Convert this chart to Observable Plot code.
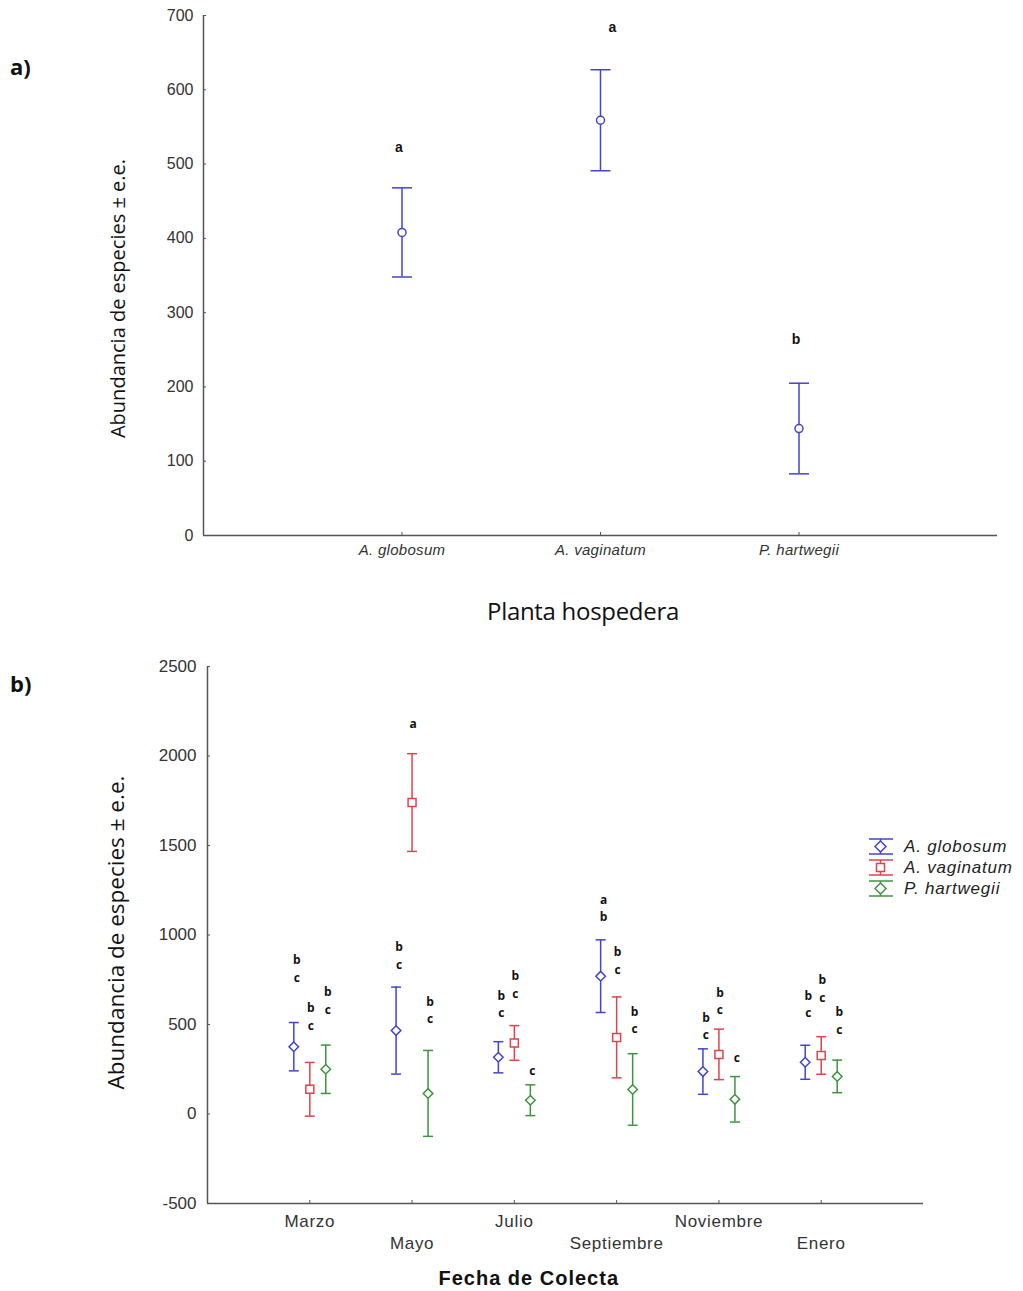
<!DOCTYPE html>
<html>
<head>
<meta charset="utf-8">
<script src="https://cdn.jsdelivr.net/npm/d3@7"></script>
<script src="https://cdn.jsdelivr.net/npm/@observablehq/plot@0.6"></script>
<style>
  html, body { margin: 0; padding: 0; background: #fff; }
  #page { position: relative; width: 1023px; height: 1291px; overflow: hidden; background: #fff; }
  #page > svg, #page > div { position: absolute; }
  .panel-tag { font-family: "Open Sans", sans-serif; font-weight: 700; font-size: 22px; color: #111; }
  .ytitle { font-family: "Open Sans", sans-serif; color: #111; white-space: nowrap; transform-origin: center center; }
  .legend-row { display: flex; align-items: center; height: 21px; }
  .legend-row span { font-family: "Liberation Sans", Arial, sans-serif; font-style: italic; font-size: 17px; letter-spacing: 0.8px; color: #222; margin-left: 8px; }
  svg.panel-b g[aria-label="x-axis tick label"] text { letter-spacing: 0.7px; }
  svg.panel-a g[aria-label="x-axis tick label"] text { letter-spacing: 0.3px; }
</style>
</head>
<body>
<div id="page"></div>
<script>
// ---------- Panel a data ----------
const hostPlants = ["A. globosum", "A. vaginatum", "P. hartwegii"];
const hostMeans = [408, 559, 144];
const hostSE = [60, 68, 61];
const hostLetters = ["a", "a", "b"];
const hostLetterY = [522, 684, 264];
const hostYTicks = [0, 100, 200, 300, 400, 500, 600, 700];

// ---------- Panel b data ----------
const months = ["Marzo", "Mayo", "Julio", "Septiembre", "Noviembre", "Enero"];
const seriesNames = ["A. globosum", "A. vaginatum", "P. hartwegii"];
const globosumMeans = [376, 466, 317, 770, 237, 289];
const globosumSE = [135, 243, 87, 203, 127, 95];
const globosumLetters = ["b\nc", "b\nc", "b\nc", "a\nb", "b\nc", "b\nc"];
const globosumLetterY = [818, 891, 622, 1158, 499, 620];
const vaginatumMeans = [138, 1740, 397, 428, 333, 327];
const vaginatumSE = [150, 273, 97, 226, 141, 105];
const vaginatumLetters = ["b\nc", "a", "b\nc", "b\nc", "b\nc", "b\nc"];
const vaginatumLetterY = [550, 2188, 730, 863, 636, 708];
const hartwegiiMeans = [250, 115, 77, 137, 82, 210];
const hartwegiiSE = [135, 240, 86, 200, 127, 91];
const hartwegiiLetters = ["b\nc", "b\nc", "c", "b\nc", "c", "b\nc"];
const hartwegiiLetterY = [639, 588, 248, 530, 323, 528];
const monthYTicks = [-500, 0, 500, 1000, 1500, 2000, 2500];

// ---------- styles ----------
const BLUE = "#4343d0", RED = "#e0434d", GREEN = "#3f9442";
const AXIS = "#555";
const TICKTXT = "#333";
const SANS = "'Liberation Sans', Arial, sans-serif";
const seriesStyle = [
  {color: BLUE, symbol: "diamond2", r: 4.3, dx: -16, ldx: 3},
  {color: RED, symbol: "square", r: 4.5, dx: 0, ldx: 1},
  {color: GREEN, symbol: "diamond2", r: 4.3, dx: 16, ldx: 2}
];

// horizontal line symbol used for error-bar caps
const capSymbol = {
  draw(context, size) {
    const r = Math.sqrt(size / Math.PI);
    context.moveTo(-r, 0);
    context.lineTo(r, 0);
  }
};

const page = document.getElementById("page");

// ---------- Panel a ----------
const hostTable = hostPlants.map((p, i) => ({
  plant: p, pos: i + 1, mean: hostMeans[i], lo: hostMeans[i] - hostSE[i], hi: hostMeans[i] + hostSE[i],
  letter: hostLetters[i], ly: hostLetterY[i]
}));

const plotA = Plot.plot({
  width: 1023, height: 600,
  marginLeft: 203, marginRight: 26, marginTop: 15, marginBottom: 65,
  className: "panel-a",
  style: {background: "transparent", overflow: "visible"},
  x: {domain: [0, hostPlants.length + 1]},
  y: {domain: [0, 700]},
  marks: [
    Plot.axisY({ticks: hostYTicks, tickSize: -3, tickPadding: 13, stroke: AXIS, tickFormat: d => String(d),
      fill: TICKTXT, fontSize: 16, fontFamily: SANS, label: null}),
    Plot.axisX({ticks: hostTable.map(d => d.pos), tickFormat: (d) => hostPlants[d - 1],
      tickSize: -3, tickPadding: 12, stroke: AXIS, fill: TICKTXT,
      fontSize: 15, fontStyle: "italic", fontFamily: SANS, label: null}),
    Plot.ruleX([0], {stroke: AXIS, strokeWidth: 1.5}),
    Plot.ruleY([0], {stroke: AXIS, strokeWidth: 1.5}),
    Plot.ruleX(hostTable, {x: "pos", y1: "lo", y2: "hi", stroke: BLUE, strokeWidth: 1.5}),
    Plot.dot(hostTable, {x: "pos", y: "hi", symbol: capSymbol, r: 10, stroke: BLUE, strokeWidth: 1.5, fill: "none"}),
    Plot.dot(hostTable, {x: "pos", y: "lo", symbol: capSymbol, r: 10, stroke: BLUE, strokeWidth: 1.5, fill: "none"}),
    Plot.dot(hostTable, {x: "pos", y: "mean", r: 4, stroke: BLUE, strokeWidth: 1.5, fill: "white"}),
    Plot.text(hostTable.filter(d => d.plant !== "A. vaginatum"), {x: "pos", y: "ly", text: "letter", dx: -3,
      fontWeight: 700, fontSize: 14, fill: "#111", fontFamily: SANS}),
    Plot.text(hostTable.filter(d => d.plant === "A. vaginatum"), {x: "pos", y: "ly", text: "letter", dx: 12,
      fontWeight: 700, fontSize: 14, fill: "#111", fontFamily: SANS})
  ]
});
plotA.style.left = "0px"; plotA.style.top = "0px";
page.appendChild(plotA);

// ---------- Panel b ----------
const seriesData = [
  [globosumMeans, globosumSE, globosumLetters, globosumLetterY],
  [vaginatumMeans, vaginatumSE, vaginatumLetters, vaginatumLetterY],
  [hartwegiiMeans, hartwegiiSE, hartwegiiLetters, hartwegiiLetterY]
].map(([m, se, lt, ly], s) => months.map((mo, i) => ({
  series: seriesNames[s], month: mo, pos: i + 1, mean: m[i], lo: m[i] - se[i], hi: m[i] + se[i], letter: lt[i], ly: ly[i]
})));

const seriesMarks = seriesData.flatMap((rows, s) => {
  const st = seriesStyle[s];
  return [
    Plot.ruleX(rows, {x: "pos", y1: "lo", y2: "hi", dx: st.dx, stroke: st.color, strokeWidth: 1.5}),
    Plot.dot(rows, {x: "pos", y: "hi", dx: st.dx, symbol: capSymbol, r: 5, stroke: st.color, strokeWidth: 1.5, fill: "none"}),
    Plot.dot(rows, {x: "pos", y: "lo", dx: st.dx, symbol: capSymbol, r: 5, stroke: st.color, strokeWidth: 1.5, fill: "none"}),
    Plot.dot(rows, {x: "pos", y: "mean", dx: st.dx, symbol: st.symbol, r: st.r, stroke: st.color, strokeWidth: 1.5, fill: "white"}),
    Plot.text(rows, {x: "pos", y: "ly", text: "letter", dx: st.dx + st.ldx, lineHeight: 1.45,
      fontWeight: 700, fontSize: 12, fill: "#111", fontFamily: "'Open Sans', sans-serif"})
  ];
});

const monthPos = months.map((m, i) => i + 1);
const plotB = Plot.plot({
  width: 1023, height: 671,
  marginLeft: 207, marginRight: 100, marginTop: 46, marginBottom: 88,
  className: "panel-b",
  style: {background: "transparent", overflow: "visible"},
  x: {domain: [0, months.length + 1]},
  y: {domain: [-500, 2500]},
  marks: [
    Plot.axisY({ticks: monthYTicks, tickSize: -3, tickPadding: 14, stroke: AXIS, tickFormat: d => String(d),
      fill: TICKTXT, fontSize: 17, fontFamily: SANS, label: null}),
    Plot.axisX({ticks: monthPos.filter(p => p % 2 === 1), tickFormat: p => months[p - 1],
      tickSize: -3, tickPadding: 14, stroke: AXIS, fill: TICKTXT,
      fontSize: 17, fontFamily: SANS, label: null}),
    Plot.axisX({ticks: monthPos.filter(p => p % 2 === 0), tickFormat: p => months[p - 1],
      tickSize: -3, tickPadding: 36, stroke: AXIS, fill: TICKTXT,
      fontSize: 17, fontFamily: SANS, label: null}),
    Plot.ruleX([0], {stroke: AXIS, strokeWidth: 1.5}),
    Plot.ruleY([-500], {stroke: AXIS, strokeWidth: 1.5}),
    ...seriesMarks
  ]
});
plotB.style.left = "0px"; plotB.style.top = "620px";
page.appendChild(plotB);

// ---------- Titles / labels (text) ----------
function addDiv(text, css, cls) {
  const d = document.createElement("div");
  d.textContent = text;
  if (cls) d.className = cls;
  Object.assign(d.style, css);
  page.appendChild(d);
  return d;
}
addDiv("a)", {left: "10px", top: "51px"}, "panel-tag");
addDiv("b)", {left: "10px", top: "668px"}, "panel-tag");

function addYTitle(text, cx, cy, size) {
  const d = addDiv(text, {fontSize: size + "px", left: "0px", top: "0px"}, "ytitle");
  const w = d.offsetWidth, h = d.offsetHeight;
  d.style.left = (cx - w / 2) + "px";
  d.style.top = (cy - h / 2) + "px";
  d.style.transform = "rotate(-90deg)";
}
addYTitle("Abundancia de especies ± e.e.", 117, 298, 20);
addYTitle("Abundancia de especies ± e.e.", 116, 932, 22.5);

function addCentered(text, cx, cy, css) {
  const d = addDiv(text, Object.assign({left: "0px", top: "0px", whiteSpace: "nowrap"}, css));
  d.style.left = (cx - d.offsetWidth / 2) + "px";
  d.style.top = (cy - d.offsetHeight / 2) + "px";
}
addCentered("Planta hospedera", 583, 610, {fontFamily: "'Open Sans', sans-serif", fontSize: "24px", color: "#111", letterSpacing: "-0.3px"});
addCentered("Fecha de Colecta", 529, 1278, {fontFamily: SANS, fontSize: "20px", fontWeight: "700", color: "#111", letterSpacing: "1px"});

// ---------- Legend for panel b ----------
const legend = document.createElement("div");
Object.assign(legend.style, {left: "866px", top: "836px"});
seriesNames.forEach((name, s) => {
  const st = seriesStyle[s];
  const row = document.createElement("div");
  row.className = "legend-row";
  const ns = "http://www.w3.org/2000/svg";
  const svg = document.createElementNS(ns, "svg");
  svg.setAttribute("width", "30"); svg.setAttribute("height", "21");
  const sym = st.symbol === "square"
    ? `<rect x="10.5" y="6.5" width="8" height="8" fill="white" stroke="${st.color}" stroke-width="1.5"/>`
    : `<path d="M14.5,5 L20,10.5 L14.5,16 L9,10.5 Z" fill="white" stroke="${st.color}" stroke-width="1.5"/>`;
  svg.innerHTML = `<g stroke="${st.color}" stroke-width="1.5" fill="none">
      <line x1="3" x2="27" y1="3" y2="3"/><line x1="3" x2="27" y1="18" y2="18"/>
      <line x1="14.5" x2="14.5" y1="3" y2="18"/></g>${sym}`;
  row.appendChild(svg);
  const span = document.createElement("span");
  span.textContent = name;
  row.appendChild(span);
  legend.appendChild(row);
});
page.appendChild(legend);
</script>
</body>
</html>
